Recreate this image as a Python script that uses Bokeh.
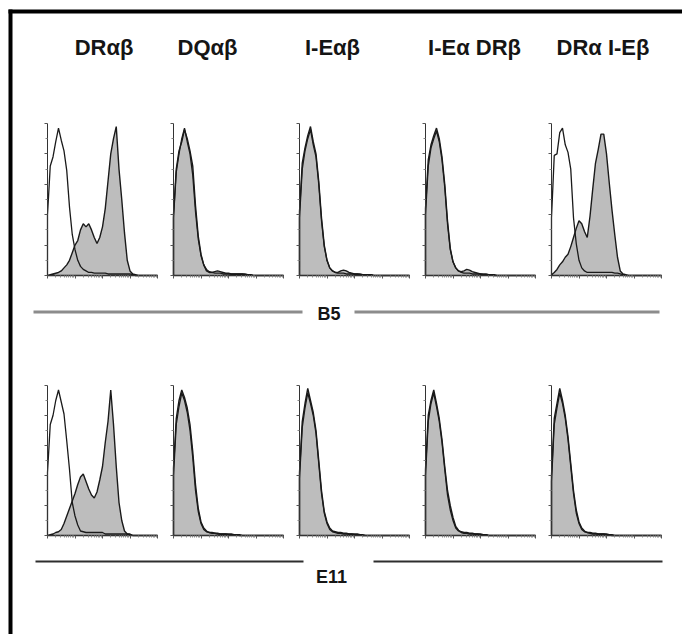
import math
from bokeh.plotting import figure
from bokeh.models import Range1d, LinearAxis, FixedTicker, CustomJSTickFormatter
from bokeh.core.properties import value
from bokeh.embed import file_html
from bokeh.resources import INLINE

# ---------------- data ----------------
# log10 fluorescence position of each histogram bin (4 decades)
BINS = [0.0, 0.1, 0.2, 0.3, 0.4, 0.5, 0.6, 0.7, 0.8, 0.9,
        1.0, 1.1, 1.2, 1.3, 1.4, 1.5, 1.6, 1.7, 1.8, 1.9,
        2.0, 2.1, 2.2, 2.3, 2.4, 2.5, 2.6, 2.7, 2.8, 2.9,
        3.0, 3.1, 3.2, 3.3, 3.4, 3.5, 3.6, 3.7, 3.8, 3.9, 4.0]

COLUMNS = ["DRαβ", "DQαβ", "I-Eαβ", "I-Eα DRβ", "DRα I-Eβ"]
ROWS = ["B5", "E11"]

# B5 row: stained (filled) and control (open) histograms, % of max
B5_DRab_stain = [0, 0.5, 1, 1.5, 2, 3, 5, 7, 10, 15,
                 20, 23, 30, 34, 32, 34, 30, 25, 21, 25,
                 32, 44, 62, 80, 90, 98, 70, 50, 28, 10,
                 3, 1, 0.5, 0, 0, 0, 0, 0, 0, 0, 0]
B5_DRab_ctrl = [40, 72, 78, 88, 97, 89, 82, 69, 45, 27,
                17, 10, 6, 4, 3, 2, 2, 1.5, 1.5, 1.5,
                1.5, 1.5, 1, 1, 1, 1, 1, 1, 1, 1,
                1, 0.5, 0, 0, 0, 0, 0, 0, 0, 0, 0]
B5_DQab_stain = [40, 70, 82, 88, 96, 90, 82, 72, 46, 26,
                 14, 7, 3, 2, 2, 2.5, 3, 2.5, 2, 1.5,
                 1.5, 1, 1, 1, 1, 1, 1, 0.5, 0.5, 0,
                 0, 0, 0, 0, 0, 0, 0, 0, 0, 0, 0]
B5_DQab_ctrl = [38, 68, 80, 90, 97, 88, 80, 66, 42, 24,
                13, 7, 4, 2.5, 2, 1.5, 1.5, 1.5, 1, 1,
                1, 1, 1, 1, 1, 1, 0.5, 0.5, 0.5, 0,
                0, 0, 0, 0, 0, 0, 0, 0, 0, 0, 0]
B5_IEab_stain = [42, 74, 84, 92, 98, 88, 80, 62, 38, 20,
                 10, 5, 3, 2, 2, 3, 3.5, 3, 2, 1.5,
                 1, 1, 1, 0.5, 0.5, 0.5, 0.5, 0, 0, 0,
                 0, 0, 0, 0, 0, 0, 0, 0, 0, 0, 0]
B5_IEab_ctrl = [38, 70, 82, 90, 96, 86, 78, 60, 36, 19,
                10, 5, 3, 2, 1.5, 1.5, 1.5, 1, 1, 1,
                1, 1, 0.5, 0.5, 0.5, 0.5, 0.5, 0, 0, 0,
                0, 0, 0, 0, 0, 0, 0, 0, 0, 0, 0]
B5_IEaDRb_stain = [44, 76, 86, 92, 97, 90, 78, 60, 36, 18,
                   9, 5, 3, 2.5, 3, 4, 3.5, 2.5, 2, 1.5,
                   1, 1, 1, 0.5, 0.5, 0.5, 0, 0, 0, 0,
                   0, 0, 0, 0, 0, 0, 0, 0, 0, 0, 0]
B5_IEaDRb_ctrl = [40, 72, 84, 90, 95, 88, 76, 58, 34, 17,
                  9, 5, 3, 2, 1.5, 1.5, 1.5, 1, 1, 1,
                  1, 0.5, 0.5, 0.5, 0.5, 0, 0, 0, 0, 0,
                  0, 0, 0, 0, 0, 0, 0, 0, 0, 0, 0]
B5_DRaIEb_stain = [0.5, 2, 4, 7, 9, 12, 14, 19, 25, 31,
                   36, 34, 29, 25, 39, 57, 74, 83, 93, 93,
                   80, 61, 43, 27, 12, 3, 1, 0.5, 0, 0,
                   0, 0, 0, 0, 0, 0, 0, 0, 0, 0, 0]
B5_DRaIEb_ctrl = [38, 79, 80, 94, 97, 86, 81, 70, 38, 21,
                  10, 5, 3, 2, 2, 2, 2, 2, 2, 2,
                  2, 2, 2, 1.5, 1.5, 1, 0.5, 0, 0, 0,
                  0, 0, 0, 0, 0, 0, 0, 0, 0, 0, 0]

# E11 row
E11_DRab_stain = [0, 0.5, 1, 2, 2.5, 4, 8, 13, 18, 23,
                  28, 34, 39, 41, 36, 31, 27, 25, 29, 37,
                  46, 62, 76, 97, 74, 46, 22, 10, 3, 1,
                  0.5, 0, 0, 0, 0, 0, 0, 0, 0, 0, 0]
E11_DRab_ctrl = [42, 74, 80, 90, 97, 89, 81, 63, 44, 22,
                 13, 7, 3, 2.5, 2, 2, 2, 2, 2, 2,
                 2, 1, 1, 1, 1, 1, 1, 1, 1, 1,
                 1, 0, 0, 0, 0, 0, 0, 0, 0, 0, 0]
E11_DQab_stain = [45, 78, 90, 97, 92, 85, 74, 56, 34, 18,
                  9, 5, 3, 2, 2, 1.5, 1.5, 1, 1, 1,
                  1, 1, 0.5, 0.5, 0.5, 0, 0, 0, 0, 0,
                  0, 0, 0, 0, 0, 0, 0, 0, 0, 0, 0]
E11_DQab_ctrl = [40, 74, 86, 95, 90, 82, 70, 52, 30, 16,
                 8, 4, 2.5, 2, 1.5, 1.5, 1, 1, 1, 1,
                 0.5, 0.5, 0.5, 0.5, 0, 0, 0, 0, 0, 0,
                 0, 0, 0, 0, 0, 0, 0, 0, 0, 0, 0]
E11_IEab_stain = [42, 76, 88, 98, 90, 82, 70, 50, 30, 16,
                  9, 5, 3, 2.5, 2, 2, 1.5, 1.5, 1, 1,
                  1, 1, 0.5, 0.5, 0, 0, 0, 0, 0, 0,
                  0, 0, 0, 0, 0, 0, 0, 0, 0, 0, 0]
E11_IEab_ctrl = [38, 72, 85, 95, 88, 80, 68, 48, 28, 15,
                 8, 4, 2.5, 2, 1.5, 1.5, 1, 1, 1, 1,
                 0.5, 0.5, 0.5, 0, 0, 0, 0, 0, 0, 0,
                 0, 0, 0, 0, 0, 0, 0, 0, 0, 0, 0]
E11_IEaDRb_stain = [44, 80, 90, 97, 88, 78, 64, 46, 30, 20,
                    12, 6, 3.5, 2.5, 2, 2, 1.5, 1.5, 1, 1,
                    1, 0.5, 0.5, 0, 0, 0, 0, 0, 0, 0,
                    0, 0, 0, 0, 0, 0, 0, 0, 0, 0, 0]
E11_IEaDRb_ctrl = [40, 76, 88, 95, 86, 76, 62, 44, 27, 17,
                   10, 5, 3, 2, 1.5, 1.5, 1, 1, 1, 1,
                   0.5, 0.5, 0.5, 0, 0, 0, 0, 0, 0, 0,
                   0, 0, 0, 0, 0, 0, 0, 0, 0, 0, 0]
E11_DRaIEb_stain = [40, 78, 88, 98, 90, 80, 66, 48, 30, 17,
                    9, 5, 3, 2, 2, 1.5, 1.5, 1, 1, 1,
                    1, 0.5, 0.5, 0, 0, 0, 0, 0, 0, 0,
                    0, 0, 0, 0, 0, 0, 0, 0, 0, 0, 0]
E11_DRaIEb_ctrl = [36, 74, 85, 95, 88, 78, 64, 46, 28, 15,
                   8, 4, 2.5, 2, 1.5, 1, 1, 1, 1, 1,
                   0.5, 0.5, 0, 0, 0, 0, 0, 0, 0, 0,
                   0, 0, 0, 0, 0, 0, 0, 0, 0, 0, 0]

STAIN_ROWS = [
    [B5_DRab_stain, B5_DQab_stain, B5_IEab_stain, B5_IEaDRb_stain, B5_DRaIEb_stain],
    [E11_DRab_stain, E11_DQab_stain, E11_IEab_stain, E11_IEaDRb_stain, E11_DRaIEb_stain],
]
CTRL_ROWS = [
    [B5_DRab_ctrl, B5_DQab_ctrl, B5_IEab_ctrl, B5_IEaDRb_ctrl, B5_DRaIEb_ctrl],
    [E11_DRab_ctrl, E11_DQab_ctrl, E11_IEab_ctrl, E11_IEaDRb_ctrl, E11_DRaIEb_ctrl],
]

# ---------------- layout (pixels) ----------------
W, H = 682, 634
PANEL_LEFT = [47, 173, 299, 425, 551]
PANEL_W = 110
ROW_BASE = [275, 535]
ROW_H = [152, 150]
X_MAX = 4.0
Y_MAX = 100.0
HEADER_X = [103.5, 207, 332, 474, 602.5]
HEADER_Y = 47

FONT = value("Liberation Sans")

p = figure(width=W, height=H, x_range=Range1d(0, W), y_range=Range1d(H, 0),
           output_backend="svg", toolbar_location=None, min_border=0,
           x_axis_location=None, y_axis_location=None)
p.grid.visible = False
p.outline_line_color = None
p.background_fill_color = "white"
p.border_fill_color = "white"

# frame border (top & left)
p.segment(x0=[8, 10], y0=[11, 9], x1=[W, 10], y1=[11, H], line_color="black", line_width=4)

# column headers
p.text(x=HEADER_X, y=[HEADER_Y] * 5, text=COLUMNS, text_font=FONT,
       text_font_style="bold", text_font_size="22px", text_align="center",
       text_baseline="middle", text_color="#151515")

# row separators and labels
p.segment(x0=[33, 354], y0=[311.5, 311.5], x1=[302, 659], y1=[311.5, 311.5],
          line_color="#8c8c8c", line_width=3)
p.segment(x0=[35, 373], y0=[561, 561], x1=[303, 662], y1=[561, 561],
          line_color="#2e2e2e", line_width=1.8)
p.text(x=[328.5, 331], y=[313.5, 576], text=ROWS, text_font=FONT,
       text_font_style="bold", text_font_size="18px", text_align="center",
       text_baseline="middle", text_color="#151515")

x_minor = [d + math.log10(k) for d in range(4) for k in range(2, 10)]
empty_fmt = CustomJSTickFormatter(code="return ''")

for r in range(2):
    B, Hh = ROW_BASE[r], ROW_H[r]
    for c in range(5):
        L = PANEL_LEFT[c]
        xn, yn = f"x{r}{c}", f"y{r}{c}"
        p.extra_x_ranges[xn] = Range1d((0 - L) / PANEL_W * X_MAX, (W - L) / PANEL_W * X_MAX)
        p.extra_y_ranges[yn] = Range1d((B - H) / Hh * Y_MAX, B / Hh * Y_MAX)

        stain = STAIN_ROWS[r][c]
        ctrl = CTRL_ROWS[r][c]
        p.patch(x=[0.0] + BINS + [X_MAX], y=[0] + stain + [0],
                fill_color="#bdbdbd", line_color="#1a1a1a", line_width=1.4,
                x_range_name=xn, y_range_name=yn)
        p.line(x=[0.0] + BINS, y=[0] + ctrl, line_color="#1a1a1a", line_width=1.3,
               x_range_name=xn, y_range_name=yn)

        xa = LinearAxis(x_range_name=xn, y_range_name=yn, fixed_location=0,
                        bounds=(0, X_MAX),
                        ticker=FixedTicker(ticks=[0, 1, 2, 3, 4], minor_ticks=x_minor),
                        formatter=empty_fmt, major_label_text_font_size="0px",
                        axis_line_color="#333333", axis_line_width=1,
                        major_tick_out=3, major_tick_in=0, minor_tick_out=2, minor_tick_in=0,
                        major_tick_line_color="#555555", minor_tick_line_color="#888888")
        p.add_layout(xa, "below")
        ya = LinearAxis(x_range_name=xn, y_range_name=yn, fixed_location=0,
                        bounds=(0, Y_MAX),
                        ticker=FixedTicker(ticks=[0, 20, 40, 60, 80, 100],
                                           minor_ticks=[10, 30, 50, 70, 90]),
                        formatter=empty_fmt, major_label_text_font_size="0px",
                        axis_line_color="#333333", axis_line_width=1,
                        major_tick_out=3, major_tick_in=0, minor_tick_out=2, minor_tick_in=0,
                        major_tick_line_color="#555555", minor_tick_line_color="#888888")
        p.add_layout(ya, "left")

open("out.html", "w").write(file_html(p, INLINE))
